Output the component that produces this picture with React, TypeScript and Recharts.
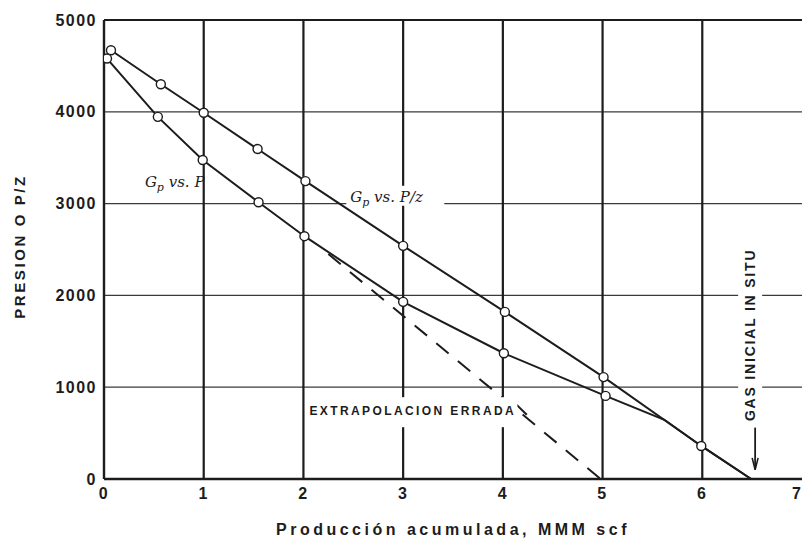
import {
  ComposedChart,
  Line,
  ReferenceDot,
  ReferenceLine,
  Scatter,
  XAxis,
  YAxis,
} from "recharts";

const INK = "#1c1c1c";
const FONT = "'Liberation Sans', Arial, sans-serif";

const X_TICKS = [0, 1, 2, 3, 4, 5, 6, 7];
const Y_TICKS = [0, 1000, 2000, 3000, 4000, 5000];
const V_GRID = [1, 2, 3, 4, 5, 6];
const H_GRID = [1000, 2000, 3000, 4000];

// Gp vs P/z (measured points, the last one is the intercept with the axis)
const PZ_X = [0.07, 0.57, 1.0, 1.54, 2.02, 3.0, 4.02, 5.01, 5.99, 6.49];
const PZ_Y = [4670, 4300, 3990, 3595, 3245, 2540, 1820, 1110, 360, 0];

// Gp vs P (measured points)
const P_X = [0.03, 0.54, 0.99, 1.55, 2.01, 3.0, 4.01, 5.03];
const P_Y = [4580, 3945, 3475, 3015, 2645, 1930, 1370, 905];
// where the P curve joins the P/z line
const P_TAIL_X = [5.62, 5.99, 6.49];
const P_TAIL_Y = [645, 360, 0];

// wrong extrapolation (dashed)
const EXTRAP_X = [2.25, 4.98];
const EXTRAP_Y = [2450, 0];

const toPoints = (xs: number[], ys: number[]) => xs.map((x, i) => ({ x, y: ys[i] }));

const pzLine = toPoints(PZ_X, PZ_Y);
const pzDots = pzLine.slice(0, -1);
const pDots = toPoints(P_X, P_Y);
const pLine = [...pDots, ...toPoints(P_TAIL_X, P_TAIL_Y)];
const extrapLine = toPoints(EXTRAP_X, EXTRAP_Y);

const OpenDot = (p: any) => (
  <circle cx={p.cx} cy={p.cy} r={4.5} fill="#fff" stroke={INK} strokeWidth={1.4} />
);

const gpLabel = (suffix: string, bg: boolean) => (props: any) => {
  const { x, y } = props.viewBox;
  return (
    <g>
      {bg && <rect x={x - 4} y={y - 16} width={98} height={20} fill="#fff" />}
      <text x={x} y={y} fill={INK} fontFamily="'DejaVu Serif', serif" fontStyle="italic" fontSize={15}>
        G
        <tspan fontSize={11} dy={4}>p</tspan>
        <tspan dy={-4}>{" vs. " + suffix}</tspan>
      </text>
    </g>
  );
};

const extrapLabel = (props: any) => {
  const { x, y } = props.viewBox;
  return (
    <g>
      <rect x={x - 2} y={y - 18} width={210} height={30} fill="#fff" />
      <text x={x} y={y} fill={INK} fontFamily={FONT} fontWeight={700} fontSize={12} letterSpacing={2.4}>
        EXTRAPOLACION ERRADA
      </text>
    </g>
  );
};

const gasLabel = (props: any) => {
  const { x, y } = props.viewBox;
  return (
    <g>
      <rect x={x - 12} y={y - 92} width={24} height={184} fill="#fff" />
      <text
        x={x}
        y={y}
        transform={`rotate(-90, ${x}, ${y})`}
        textAnchor="middle"
        dominantBaseline="central"
        fill={INK}
        fontFamily={FONT}
        fontWeight={700}
        fontSize={14}
        letterSpacing={1.8}
      >
        GAS INICIAL IN SITU
      </text>
    </g>
  );
};

const yAxisLabel = (props: any) => {
  const { y, height } = props.viewBox;
  const cy = y + height / 2 - 3;
  return (
    <text
      x={19}
      y={cy}
      transform={`rotate(-90, 19, ${cy})`}
      textAnchor="middle"
      dominantBaseline="central"
      fill={INK}
      fontFamily={FONT}
      fontWeight={700}
      fontSize={15}
      letterSpacing={2.6}
    >
      PRESION O P/Z
    </text>
  );
};

const xAxisLabel = (props: any) => {
  const { x, width } = props.viewBox;
  return (
    <text
      x={x + width / 2}
      y={535}
      textAnchor="middle"
      fill={INK}
      fontFamily={FONT}
      fontWeight={700}
      fontSize={16}
      letterSpacing={3.5}
    >
      Producción acumulada, MMM scf
    </text>
  );
};

const tickStyle = { fill: INK, fontSize: 16, fontWeight: 700, fontFamily: FONT, letterSpacing: 1.5 };

export default function App() {
  return (
    <div style={{ position: "absolute", left: 0, top: 0, width: 802, height: 542, background: "#fff" }}>
      <ComposedChart width={802} height={542} margin={{ top: 20, right: 0, bottom: 0, left: 0 }}>
        <XAxis
          type="number"
          dataKey="x"
          domain={[0, 7]}
          ticks={X_TICKS}
          allowDataOverflow
          height={63}
          tickSize={0}
          tickMargin={9}
          tick={tickStyle}
          axisLine={{ stroke: INK, strokeWidth: 2.4 }}
          label={xAxisLabel}
        />
        <YAxis
          type="number"
          dataKey="y"
          domain={[0, 5000]}
          ticks={Y_TICKS}
          width={104}
          tickSize={0}
          tickMargin={7}
          tick={tickStyle}
          axisLine={{ stroke: INK, strokeWidth: 2.4 }}
          label={yAxisLabel}
        />

        {H_GRID.map((v) => (
          <ReferenceLine key={`h${v}`} y={v} stroke="#3a3a3a" strokeWidth={1.3} />
        ))}
        <ReferenceLine y={5000} stroke={INK} strokeWidth={2.2} />
        {V_GRID.map((v) => (
          <ReferenceLine key={`v${v}`} x={v} stroke={INK} strokeWidth={2.2} />
        ))}

        <ReferenceDot x={0.41} y={3181} r={0} fill="none" stroke="none" label={gpLabel("P", false)} />
        <ReferenceDot x={2.47} y={3020} r={0} fill="none" stroke="none" label={gpLabel("P/z", true)} />
        <ReferenceDot x={2.06} y={695} r={0} fill="none" stroke="none" label={extrapLabel} />
        <ReferenceDot x={6.48} y={1570} r={0} fill="none" stroke="none" label={gasLabel} />

        <ReferenceLine
          segment={[{ x: 4.08, y: 870 }, { x: 4.24, y: 700 }]}
          stroke={INK}
          strokeWidth={2}
        />
        <ReferenceLine
          segment={[{ x: 6.53, y: 560 }, { x: 6.53, y: 110 }]}
          stroke={INK}
          strokeWidth={1.8}
        />
        <ReferenceLine
          segment={[{ x: 6.5, y: 230 }, { x: 6.53, y: 100 }]}
          stroke={INK}
          strokeWidth={1.6}
        />
        <ReferenceLine
          segment={[{ x: 6.56, y: 230 }, { x: 6.53, y: 100 }]}
          stroke={INK}
          strokeWidth={1.6}
        />

        <Line
          data={extrapLine}
          dataKey="y"
          type="linear"
          stroke={INK}
          strokeWidth={2}
          strokeDasharray="16 12"
          dot={false}
          activeDot={false}
          isAnimationActive={false}
        />
        <Line
          data={pzLine}
          dataKey="y"
          type="linear"
          stroke={INK}
          strokeWidth={2}
          dot={false}
          activeDot={false}
          isAnimationActive={false}
        />
        <Line
          data={pLine}
          dataKey="y"
          type="linear"
          stroke={INK}
          strokeWidth={2}
          dot={false}
          activeDot={false}
          isAnimationActive={false}
        />
        <Scatter data={pzDots} dataKey="y" shape={OpenDot} isAnimationActive={false} />
        <Scatter data={pDots} dataKey="y" shape={OpenDot} isAnimationActive={false} />
      </ComposedChart>
    </div>
  );
}
